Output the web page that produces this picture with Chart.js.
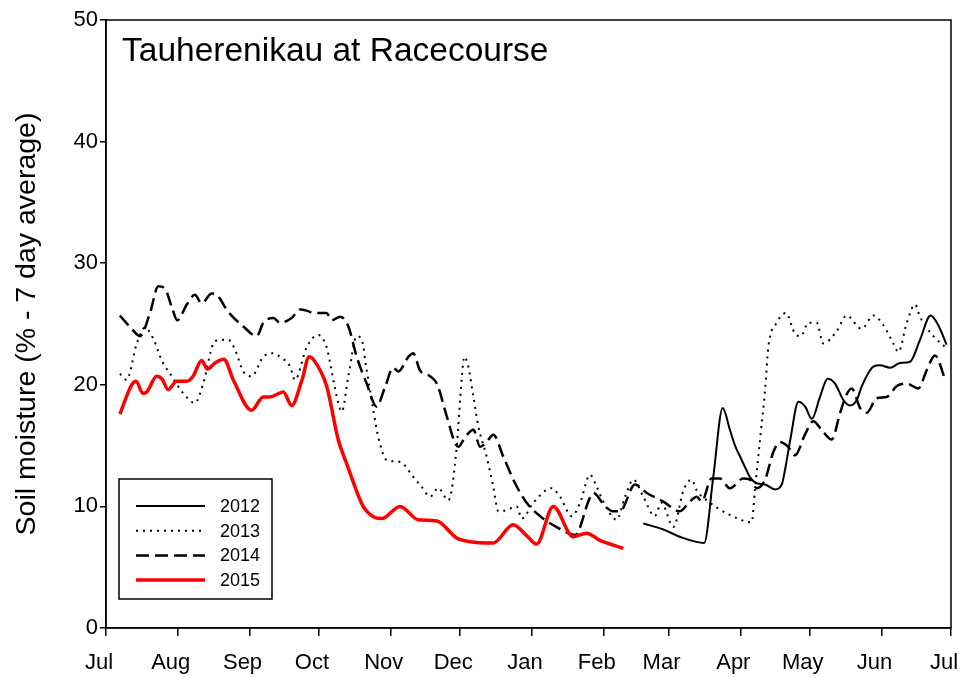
<!DOCTYPE html>
<html>
<head>
<meta charset="utf-8">
<script src="https://cdn.jsdelivr.net/npm/chart.js@4.4.0/dist/chart.umd.min.js"></script>
<style>
  html, body { margin: 0; padding: 0; background: #fff; }
  #wrap { width: 966px; height: 678px; }
</style>
</head>
<body>
<div id="wrap"><canvas id="chart" width="966" height="678"></canvas></div>
<script>
// x values are days since 1 July
const monthDays = [0, 31, 62, 92, 123, 153, 184, 215, 243, 274, 304, 335, 365]
const monthLabels = ['Jul', 'Aug', 'Sep', 'Oct', 'Nov', 'Dec', 'Jan', 'Feb', 'Mar', 'Apr', 'May', 'Jun', 'Jul']
const yTicks = [0, 10, 20, 30, 40, 50]

const days2012 = [232.1, 240.8, 247.9, 258.4, 262.3, 266.4, 269.5, 271.7, 273.9, 276.1, 278.2, 281.1, 284.7, 289.0, 291.9, 293.3, 295.6, 299.1, 302.0, 304.9, 308.4, 311.7, 314.9, 318.5, 321.4, 324.3, 326.4, 331.5, 334.3, 338.7, 343.0, 347.3, 351.6, 356.2, 359.5, 363.1]
const vals2012 = [8.6, 8.1, 7.5, 7.0, 12.4, 18.1, 16.3, 15.0, 14.1, 13.2, 12.4, 11.9, 11.8, 11.4, 11.8, 13.0, 15.5, 18.6, 18.2, 17.2, 19.0, 20.5, 20.1, 18.75, 18.3, 18.75, 19.85, 21.5, 21.6, 21.4, 21.8, 21.9, 23.7, 25.7, 24.9, 23.3]

const days2013 = [6.0, 8.9, 13.3, 16.8, 20.4, 24.1, 28.4, 33.4, 38.4, 42.0, 47.1, 52.8, 55.7, 59.3, 62.9, 67.9, 71.6, 75.9, 79.5, 81.6, 86.7, 91.7, 95.3, 96.8, 99.7, 101.8, 104.7, 108.3, 110.5, 112.6, 115.5, 117.6, 121.3, 125.6, 128.4, 132.0, 136.4, 140.0, 143.5, 147.9, 151.5, 153.6, 154.8, 156.5, 158.7, 160.8, 164.4, 167.3, 169.5, 173.1, 177.4, 179.6, 184.6, 192.5, 196.1, 201.2, 204.8, 209.1, 212.0, 214.8, 220.6, 224.2, 227.8, 232.1, 237.0, 239.9, 245.1, 249.4, 253.0, 255.2, 259.5, 269.5, 278.9, 280.3, 282.5, 284.7, 286.1, 289.7, 293.7, 297.6, 300.1, 303.4, 307.0, 309.8, 315.6, 319.9, 326.4, 331.5, 335.8, 340.1, 342.3, 345.9, 349.5, 351.6, 357.4, 363.2]
const vals2013 = [20.9, 20.4, 23.4, 24.7, 23.8, 22.0, 20.7, 19.3, 18.5, 20.1, 23.6, 23.7, 22.9, 21.1, 20.7, 22.3, 22.6, 22.2, 21.5, 20.4, 23.1, 24.1, 23.1, 21.8, 19.0, 17.8, 20.7, 24.0, 23.7, 21.2, 17.9, 15.7, 13.8, 13.7, 13.5, 12.6, 11.6, 10.8, 11.5, 10.5, 14.9, 20.4, 22.3, 21.5, 19.0, 16.6, 14.1, 11.6, 9.6, 9.7, 10.0, 9.0, 10.3, 11.5, 10.8, 9.2, 10.3, 12.6, 11.6, 10.4, 8.9, 10.8, 12.2, 10.8, 9.2, 10.3, 8.3, 11.3, 12.2, 11.3, 10.5, 9.3, 8.7, 11.3, 15.5, 19.6, 23.1, 25.1, 25.9, 24.2, 24.0, 25.1, 25.1, 23.4, 24.4, 25.7, 24.6, 25.7, 24.9, 23.4, 22.7, 25.1, 26.6, 25.6, 24.0, 23.0]

const days2014 = [6.0, 11.1, 14.7, 19.0, 22.6, 25.5, 28.4, 30.8, 34.9, 38.4, 41.3, 45.7, 47.8, 52.8, 59.3, 65.1, 68.0, 72.3, 75.2, 80.2, 83.8, 86.7, 89.5, 95.3, 97.5, 101.1, 104.7, 108.3, 112.6, 116.9, 120.5, 124.1, 126.3, 130.6, 132.7, 135.6, 140.0, 142.9, 147.2, 150.8, 152.2, 155.1, 158.7, 161.6, 164.4, 167.3, 171.6, 176.7, 181.7, 187.5, 194.7, 202.6, 209.0, 210.5, 215.6, 219.1, 222.0, 228.5, 233.6, 240.7, 247.9, 252.2, 255.2, 257.3, 261.6, 265.2, 269.5, 275.3, 278.2, 281.1, 284.7, 288.3, 291.1, 294.7, 297.6, 301.9, 305.5, 309.1, 313.5, 317.1, 319.9, 322.1, 325.7, 328.6, 332.9, 337.2, 341.6, 345.9, 350.9, 354.5, 358.1, 362.4]
const vals2014 = [25.7, 24.6, 24.0, 25.9, 28.1, 27.9, 26.4, 25.3, 26.6, 27.4, 26.7, 27.5, 27.4, 26.0, 24.8, 24.0, 25.1, 25.5, 25.1, 25.5, 26.2, 26.1, 25.9, 25.9, 25.3, 25.6, 24.8, 22.3, 20.1, 18.2, 19.8, 21.4, 21.1, 22.3, 22.6, 21.2, 20.7, 20.1, 17.4, 15.2, 14.9, 15.7, 16.3, 14.9, 15.3, 15.9, 14.1, 11.9, 10.3, 9.2, 8.3, 7.65, 10.7, 11.1, 10.0, 9.6, 9.6, 11.8, 11.1, 10.4, 9.6, 10.4, 10.8, 10.4, 12.3, 12.3, 11.5, 12.3, 12.2, 11.5, 12.2, 14.5, 15.3, 14.9, 14.2, 15.9, 17.0, 16.3, 15.5, 17.7, 19.2, 19.7, 18.1, 17.7, 18.9, 19.0, 19.9, 20.1, 19.7, 21.2, 22.4, 20.5]

const days2015 = [6.0, 11.1, 13.0, 15.9, 17.6, 21.9, 24.1, 26.9, 30.5, 34.9, 37.6, 41.3, 43.8, 47.1, 50.9, 55.0, 62.9, 67.9, 70.8, 76.6, 80.2, 84.5, 87.8, 89.5, 95.3, 100.3, 104.0, 111.1, 115.5, 119.1, 127.0, 134.9, 142.9, 151.5, 157.2, 167.3, 175.9, 181.7, 186.0, 193.2, 201.8, 207.6, 213.4, 223.5]
const vals2015 = [17.6, 20.0, 20.3, 19.3, 19.4, 20.7, 20.5, 19.6, 20.3, 20.3, 20.7, 22.0, 21.3, 21.8, 22.1, 20.4, 17.9, 19.0, 19.0, 19.4, 18.3, 20.3, 22.3, 22.1, 19.9, 15.5, 13.5, 10.0, 9.15, 9.0, 10.0, 8.9, 8.8, 7.4, 7.1, 7.0, 8.5, 7.6, 6.9, 10.0, 7.5, 7.8, 7.2, 6.55]

const FONT = 'Liberation Sans, Arial, sans-serif'

const toPoints = (xs, ys) => xs.map((x, i) => ({ x: x, y: ys[i] }))

const legendItems = [
    { label: '2012', color: '#000', width: 2, dash: [] },
    { label: '2013', color: '#000', width: 2, dash: [2, 5] },
    { label: '2014', color: '#000', width: 2.5, dash: [13, 6] },
    { label: '2015', color: '#ff0000', width: 3.5, dash: [] }
]

// frame, title and legend box drawn inside the plot
const framePlugin = {
    id: 'frame',
    afterDraw(chart) {
        const ctx = chart.ctx
        const a = chart.chartArea
        ctx.save()
        ctx.strokeStyle = '#000'
        ctx.lineWidth = 1.5
        ctx.strokeRect(a.left, a.top, a.right - a.left, a.bottom - a.top)

        ctx.fillStyle = '#000'
        ctx.font = '33.5px ' + FONT
        ctx.textBaseline = 'alphabetic'
        ctx.fillText('Tauherenikau at Racecourse', 122, 61)

        ctx.lineWidth = 1.5
        ctx.strokeRect(119, 479, 153, 120)
        ctx.font = '18px ' + FONT
        ctx.textBaseline = 'middle'
        legendItems.forEach((it, i) => {
            const y = 506 + i * 24.7
            ctx.beginPath()
            ctx.setLineDash(it.dash)
            ctx.strokeStyle = it.color
            ctx.lineWidth = it.width
            ctx.moveTo(136, y)
            ctx.lineTo(205, y)
            ctx.stroke()
            ctx.setLineDash([])
            ctx.fillStyle = '#000'
            ctx.fillText(it.label, 220, y + 1)
        })
        ctx.restore()
    }
}

new Chart(document.getElementById('chart'), {
    type: 'line',
    data: {
        datasets: [
            {
                label: '2012',
                data: toPoints(days2012, vals2012),
                borderColor: '#000',
                borderWidth: 2,
                order: 3
            },
            {
                label: '2013',
                data: toPoints(days2013, vals2013),
                borderColor: '#000',
                borderWidth: 2,
                borderDash: [2, 5],
                order: 2
            },
            {
                label: '2014',
                data: toPoints(days2014, vals2014),
                borderColor: '#000',
                borderWidth: 2.5,
                borderDash: [13, 6],
                order: 1
            },
            {
                label: '2015',
                data: toPoints(days2015, vals2015),
                borderColor: '#ff0000',
                borderWidth: 3.5,
                order: 0
            }
        ]
    },
    options: {
        responsive: false,
        animation: false,
        parsing: false,
        elements: {
            point: { radius: 0 },
            line: { fill: false, cubicInterpolationMode: 'monotone', borderJoinStyle: 'round' }
        },
        layout: { padding: { top: 20, right: 15, left: 0, bottom: 0 } },
        plugins: {
            legend: { display: false },
            tooltip: { enabled: false }
        },
        scales: {
            x: {
                type: 'linear',
                min: 0,
                max: 365,
                afterBuildTicks: axis => { axis.ticks = monthDays.map(v => ({ value: v })) },
                afterFit: axis => {
                    axis.height = 50
                    axis.paddingLeft = 0
                    axis.paddingRight = 0
                },
                grid: { drawOnChartArea: false, drawTicks: true, tickLength: 8, color: '#000', lineWidth: 1.5 },
                border: { display: true, color: '#000', width: 1.5 },
                ticks: {
                    autoSkip: false,
                    maxRotation: 0,
                    color: '#000',
                    padding: 14,
                    labelOffset: -7,
                    font: { family: FONT, size: 22 },
                    callback: (value, index) => monthLabels[index]
                }
            },
            y: {
                min: 0,
                max: 50,
                afterBuildTicks: axis => { axis.ticks = yTicks.map(v => ({ value: v })) },
                afterFit: axis => { axis.width = 106 },
                grid: { drawOnChartArea: false, drawTicks: true, tickLength: 6, color: '#000', lineWidth: 1.5 },
                border: { display: true, color: '#000', width: 1.5 },
                ticks: {
                    color: '#000',
                    padding: 2,
                    font: { family: FONT, size: 22 }
                },
                title: {
                    display: true,
                    text: 'Soil moisture (% - 7 day average)',
                    color: '#000',
                    font: { family: FONT, size: 28.5 },
                    padding: { top: 10, bottom: 0 }
                }
            }
        }
    },
    plugins: [framePlugin]
})
</script>
</body>
</html>
